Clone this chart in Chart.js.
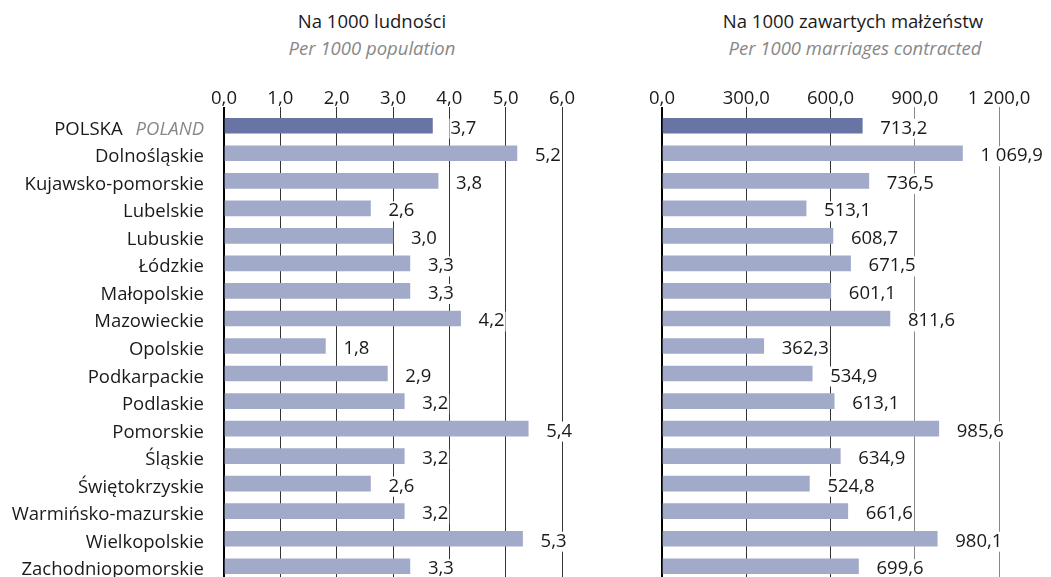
<!DOCTYPE html>
<html>
<head>
<meta charset="utf-8">
<script src="https://cdn.jsdelivr.net/npm/chart.js@4.4.1/dist/chart.umd.min.js"></script>
<style>
  body { margin: 0; background: #fff; overflow: hidden; width: 1051px; height: 577px; position: relative; }
  .ttl { position: absolute; width: 400px; text-align: center; font-family: "Open Sans", sans-serif;
         font-size: 18.5px; line-height: 22px; white-space: nowrap; }
  .main { color: #1a1a1a; top: 10px; }
  .sub { color: #888; font-style: italic; top: 37px; }
  canvas { position: absolute; top: 0; }
</style>
</head>
<body>
<div class="ttl main" style="left:172px;">Na 1000 ludności</div>
<div class="ttl sub" style="left:172px;">Per 1000 population</div>
<div class="ttl main" style="left:653px;">Na 1000 zawartych małżeństw</div>
<div class="ttl sub" style="left:655px;">Per 1000 marriages contracted</div>
<canvas id="leftChart" width="600" height="580" style="left:0"></canvas>
<canvas id="rightChart" width="451" height="580" style="left:600px"></canvas>
<script>
const categories = ['POLSKA', 'Dolnośląskie', 'Kujawsko-pomorskie', 'Lubelskie', 'Lubuskie', 'Łódzkie',
  'Małopolskie', 'Mazowieckie', 'Opolskie', 'Podkarpackie', 'Podlaskie', 'Pomorskie', 'Śląskie',
  'Świętokrzyskie', 'Warmińsko-mazurskie', 'Wielkopolskie', 'Zachodniopomorskie'];
const polandEnglish = 'POLAND';
const perPopulation = [3.7, 5.2, 3.8, 2.6, 3.0, 3.3, 3.3, 4.2, 1.8, 2.9, 3.2, 5.4, 3.2, 2.6, 3.2, 5.3, 3.3];
const perMarriages = [713.2, 1069.9, 736.5, 513.1, 608.7, 671.5, 601.1, 811.6, 362.3, 534.9, 613.1,
  985.6, 634.9, 524.8, 661.6, 980.1, 699.6];
const leftTicks = [0, 1, 2, 3, 4, 5, 6];
const rightTicks = [0, 300, 600, 900, 1200];

const FONT = '"Open Sans", sans-serif';
const SIZE = 18.5;
const dark = '#6874a3';
const light = '#a1aac9';
const barColors = categories.map((c, i) => i === 0 ? dark : light);

// polish number format: 1 069,9
function fmt(v) {
  const parts = v.toFixed(1).split('.');
  const intPart = parts[0].replace(/\B(?=(\d{3})+(?!\d))/g, ' ');
  return intPart + ',' + parts[1];
}

const valueLabels = {
  id: 'valueLabels',
  afterDatasetsDraw(chart) {
    const ctx = chart.ctx;
    const meta = chart.getDatasetMeta(0);
    const vals = chart.data.datasets[0].data;
    ctx.save();
    ctx.font = SIZE + 'px ' + FONT;
    ctx.textBaseline = 'alphabetic';
    ctx.textAlign = 'left';
    meta.data.forEach((bar, i) => {
      const txt = fmt(vals[i]);
      const x = bar.x + 18;
      const y = bar.y + 8;
      const w = ctx.measureText(txt).width;
      ctx.fillStyle = '#fff';
      ctx.fillRect(x - 1, y - 15, w + 2, 20);
      ctx.fillStyle = '#1a1a1a';
      ctx.fillText(txt, x, y);
    });
    ctx.restore();
  }
};

const categoryLabels = {
  id: 'categoryLabels',
  afterDraw(chart) {
    const ctx = chart.ctx;
    const yScale = chart.scales.y;
    const right = 204;
    ctx.save();
    ctx.textBaseline = 'alphabetic';
    ctx.textAlign = 'right';
    categories.forEach((c, i) => {
      const y = yScale.getPixelForTick(i) + 9;
      if (i === 0) {
        ctx.font = 'italic ' + SIZE + 'px ' + FONT;
        ctx.fillStyle = '#888';
        ctx.fillText(polandEnglish, right, y);
        const w = ctx.measureText(polandEnglish).width;
        ctx.font = SIZE + 'px ' + FONT;
        ctx.fillStyle = '#1a1a1a';
        ctx.fillText(c, right - w - 13, y);
      } else {
        ctx.font = SIZE + 'px ' + FONT;
        ctx.fillStyle = '#1a1a1a';
        ctx.fillText(c, right, y);
      }
    });
    ctx.restore();
  }
};

function makeChart(id, values, ticks, yWidth, padRight, gridColor, plugins) {
  const ctx = document.getElementById(id).getContext('2d');
  return new Chart(ctx, {
    type: 'bar',
    data: {
      labels: categories,
      datasets: [{
        data: values,
        backgroundColor: barColors,
        barThickness: 15
      }]
    },
    options: {
      indexAxis: 'y',
      responsive: false,
      animation: false,
      layout: { padding: { top: 0, right: padRight, bottom: 0, left: 0 } },
      plugins: { legend: { display: false }, tooltip: { enabled: false } },
      scales: {
        x: {
          position: 'top',
          min: ticks[0],
          max: ticks[ticks.length - 1],
          afterBuildTicks(scale) { scale.ticks = ticks.map(v => ({ value: v })); },
          afterFit(scale) { scale.height = 112; },
          ticks: {
            padding: -3,
            color: '#1a1a1a',
            font: { family: FONT, size: SIZE },
            callback: v => fmt(v)
          },
          grid: {
            color: gridColor,
            lineWidth: c => c.index === 0 ? 2 : 1,
            tickLength: 5
          },
          border: { display: false }
        },
        y: {
          afterFit(scale) { scale.width = yWidth; },
          ticks: { display: false },
          grid: { display: false, drawTicks: false },
          border: { display: true, color: '#000', width: 2 }
        }
      }
    },
    plugins: plugins
  });
}

makeChart('leftChart', perPopulation, leftTicks, 224, 38,
  c => c.index === 0 ? '#000' : '#333', [valueLabels, categoryLabels]);
makeChart('rightChart', perMarriages, rightTicks, 62, 52,
  c => c.index === 0 ? '#000' : (c.tick && c.tick.value >= 900 ? '#888' : '#333'), [valueLabels]);
</script>
</body>
</html>
